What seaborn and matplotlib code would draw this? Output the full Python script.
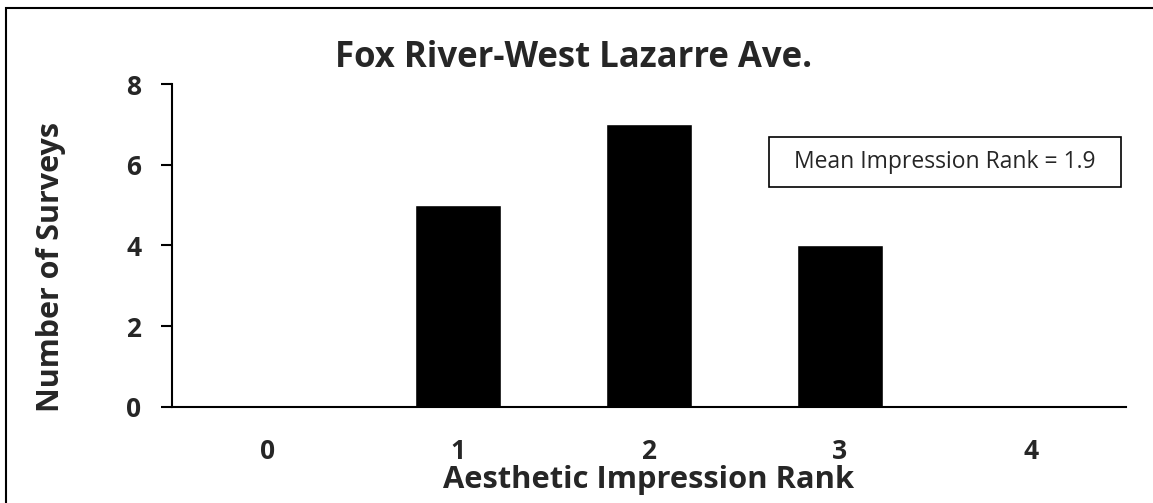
import seaborn as sns
import pandas as pd
from matplotlib import pyplot as plt
from matplotlib.patches import Rectangle
from matplotlib.ticker import FixedLocator

ranks = ["0", "1", "2", "3", "4"]
surveys = [0, 5, 7, 4, 0]
mean_rank = 1.9

sns.set_style("white")
plt.rcParams["font.family"] = ["Open Sans", "DejaVu Sans"]

df = pd.DataFrame({"rank": ranks, "count": surveys})

W, H = 1153, 503
fig = plt.figure(figsize=(W / 100, H / 100), dpi=100)
ax = fig.add_axes([0.1492, 0.1909, 0.8274, 0.6421])

sns.barplot(data=df, x="rank", y="count", color="black", width=0.45,
            saturation=1, ax=ax)

ax.set_xlim(-0.5, 4.5)
ax.set_ylim(0, 8)
ax.set_yticks([0, 2, 4, 6, 8])

# ticks sit between the categories, labels at the centers
ax.xaxis.set_minor_locator(FixedLocator([-0.5, 0.5, 1.5, 2.5, 3.5, 4.5]))
ax.tick_params(axis="x", which="major", length=0, pad=22, labelsize=19)
ax.tick_params(axis="x", which="minor", length=8, width=1.5, direction="out", color="black")
ax.tick_params(axis="y", which="major", length=8, width=1.5, direction="out",
               color="black", labelsize=19, pad=14, left=True)
for lbl in ax.get_xticklabels() + ax.get_yticklabels():
    lbl.set_fontweight("bold")

for side in ["top", "right"]:
    ax.spines[side].set_visible(False)
for side in ["left", "bottom"]:
    ax.spines[side].set_linewidth(1.5)
    ax.spines[side].set_color("black")

ax.set_xlabel("Aesthetic Impression Rank", fontsize=22.2, fontweight="bold", labelpad=0)
ax.set_ylabel("Number of Surveys", fontsize=22, fontweight="bold")
ax.yaxis.set_label_coords(-0.111, 0.433)
ax.set_title("Fox River-West Lazarre Ave.", fontsize=25, fontweight="bold", pad=12, x=0.421)

# annotation box (pixel frame as in the reference)
fig.add_artist(Rectangle((769 / W, 1 - 187 / H), 352 / W, 50 / H, transform=fig.transFigure,
                         fill=False, edgecolor="black", linewidth=1.2))
fig.text(945 / W, 1 - 162 / H, f"Mean Impression Rank = {mean_rank}",
         ha="center", va="center", fontsize=16.5)

fig.add_artist(Rectangle((0.0056, -0.1), 1.2, 1.084, transform=fig.transFigure,
                         fill=False, edgecolor="black", linewidth=1.5))

plt.savefig("out.png", dpi=100)
